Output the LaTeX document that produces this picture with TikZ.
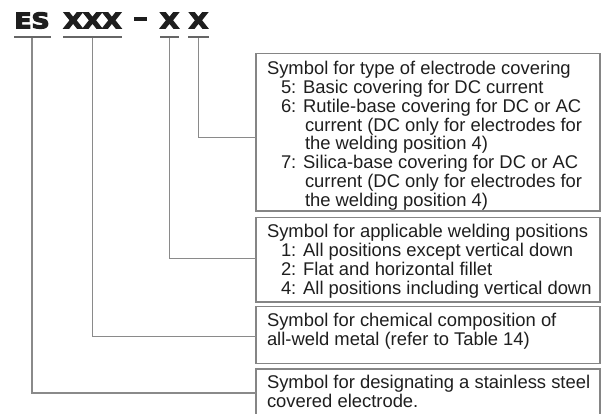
\documentclass[tikz,border=0pt]{standalone}
\usepackage{fontspec}
\setmainfont{Liberation Sans}
\newfontfamily\titlefont{DejaVu Sans}
\definecolor{txt}{HTML}{1E1E1E}
\definecolor{ulcol}{HTML}{666666}
\definecolor{lncol}{HTML}{8A8A8A}
\definecolor{bxcol}{HTML}{858585}
\newcommand\heavytext[2]{\scalebox{#1}[1]{\special{pdf:literal direct 2 Tr 1.1 w}#2\special{pdf:literal direct 0 Tr}}}
\begin{document}
\begin{tikzpicture}[x=1pt,y=-1pt,
  every node/.style={inner sep=0pt, outer sep=0pt},
  uline/.style={draw=ulcol, line width=2.2pt},
  conn/.style={draw=lncol, line width=1.1pt},
  box/.style={draw=bxcol, line width=1.1pt, rectangle, anchor=north west, inner sep=0pt, minimum width=344pt},
  body/.style={anchor=north west, align=left, text=txt, font=\fontsize{18.4}{18.8}\selectfont},
  ttl/.style={anchor=base, text=txt, font=\titlefont\bfseries\fontsize{21.5}{21.5}\selectfont}]
\useasboundingbox (0,0) rectangle (602,414);
\clip (0,0) rectangle (602,414);

% title
\node[ttl] (es) at (32,28.3) {\heavytext{1.17}{ES}};
\node[ttl] (xxx) at (92.5,28.3) {\heavytext{1.17}{XXX}};
\node[ttl] (dash) at (140.5,28.3) {\raisebox{3.4pt}{\heavytext{1.35}{–}}};
\node[ttl] (xa) at (169.5,28.3) {\heavytext{1.17}{X}};
\node[ttl] (xb) at (198.5,28.3) {\heavytext{1.17}{X}};

% underline anchor points
\coordinate (ues) at (32,37.3);
\coordinate (uxxx) at (92.5,37.3);
\coordinate (uxa) at (169.5,37.3);
\coordinate (uxb) at (198.5,37.3);

% boxes
\node[box, minimum height=157.5pt] (b1) at (256,53.5) {};
\node[box, minimum height=84.3pt] (b2) at (256,217.7) {};
\node[box, minimum height=57pt] (b3) at (256,306.5) {};
\node[box, minimum height=61pt] (b4) at (256,369) {};

% connector ends on the boxes
\coordinate (e1) at (256,137.7);
\coordinate (e2) at (256,258.5);
\coordinate (e3) at (256,336.7);
\coordinate (e4) at (256,393);

% connectors
\draw[conn] (uxb) |- (e1);
\draw[conn] (uxa) |- (e2);
\draw[conn] (uxxx) |- (e3);
\draw[conn] (ues) |- (e4);

% underlines
\draw[uline] ([xshift=-18pt]ues) -- ([xshift=19pt]ues);
\draw[uline] ([xshift=-29.5pt]uxxx) -- ([xshift=29.5pt]uxxx);
\draw[uline] ([xshift=-9.5pt]uxa) -- ([xshift=9.5pt]uxa);
\draw[uline] ([xshift=-10.5pt]uxb) -- ([xshift=10.5pt]uxb);

% texts
\node[body] (t1) at (267,61.3) {Symbol for type of electrode covering\\
\hspace*{14pt}5: Basic covering for DC current\\
\hspace*{14pt}6: Rutile-base covering for DC or AC\\
\hspace*{38pt}current (DC only for electrodes for\\
\hspace*{38pt}the welding position 4)\\
\hspace*{14pt}7: Silica-base covering for DC or AC\\
\hspace*{38pt}current (DC only for electrodes for\\
\hspace*{38pt}the welding position 4)};
\node[body] (t2) at (267,224.3) {Symbol for applicable welding positions\\
\hspace*{14pt}1: All positions except vertical down\\
\hspace*{14pt}2: Flat and horizontal fillet\\
\hspace*{14pt}4: All positions including vertical down};
\node[body] (t3) at (267,313.1) {Symbol for chemical composition of\\
all-weld metal (refer to Table 14)};
\node[body] (t4) at (267,375.6) {Symbol for designating a stainless steel\\
covered electrode.};
\end{tikzpicture}
\end{document}
